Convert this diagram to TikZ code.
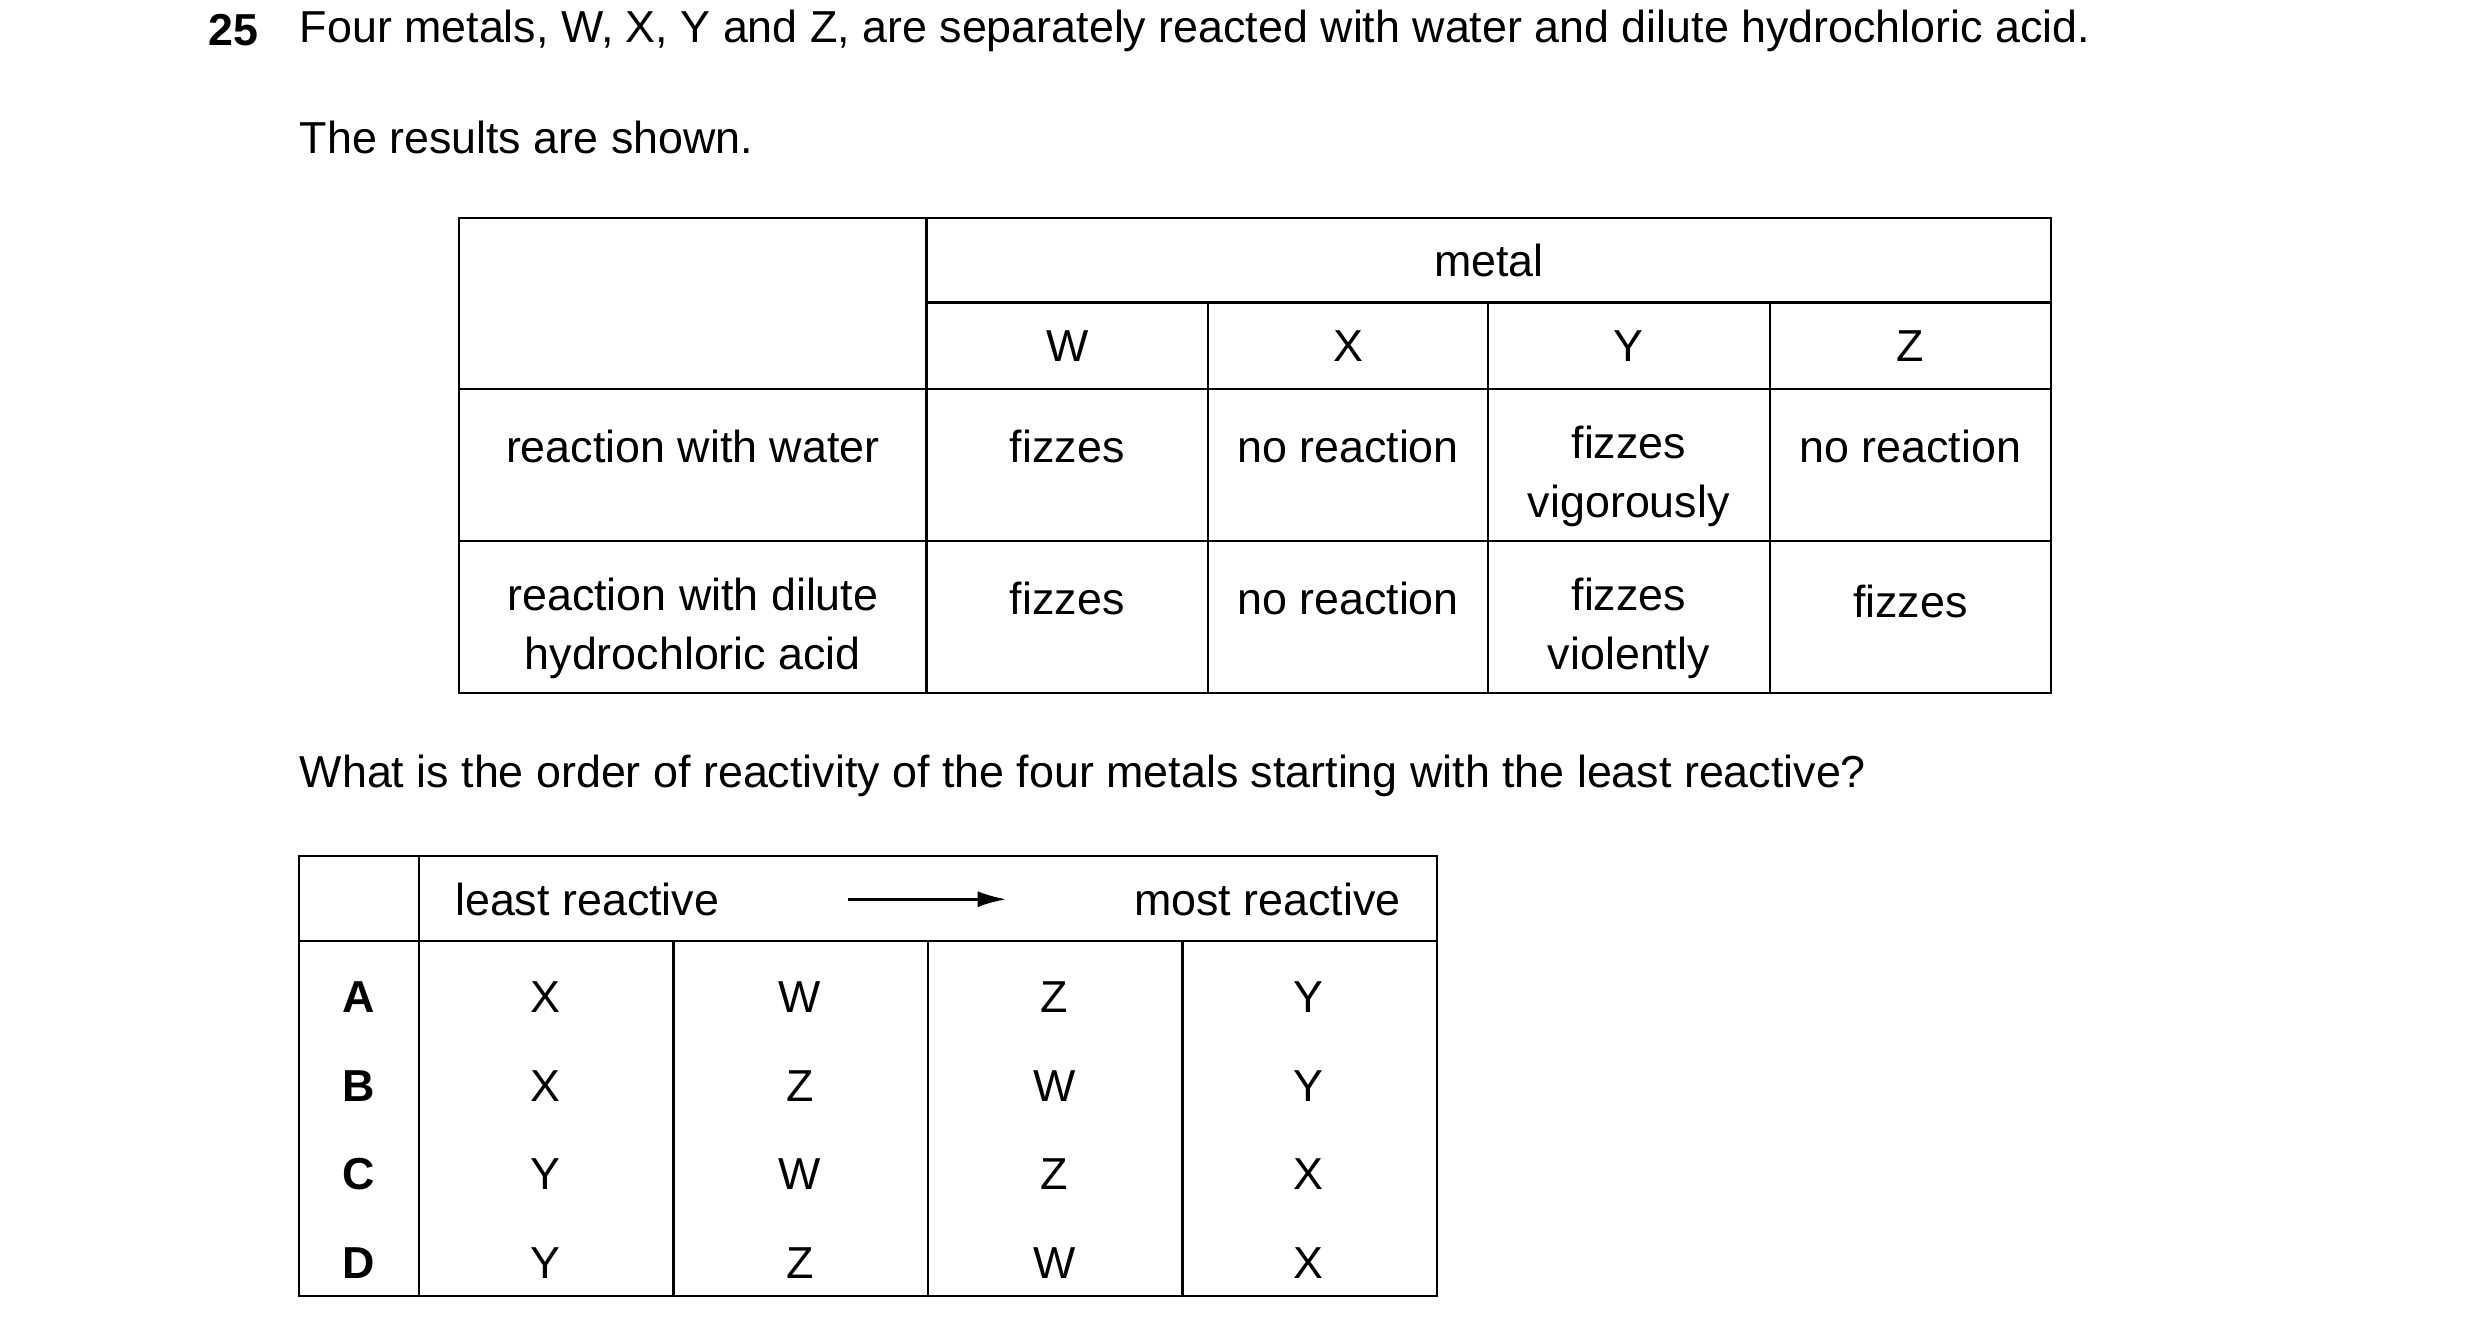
\documentclass[tikz,border=0pt]{standalone}
\usepackage{fontspec}
\setmainfont{Liberation Sans}
\usetikzlibrary{arrows.meta}
\begin{document}
\begin{tikzpicture}[x=0.5pt,y=-0.5pt,
  t/.style={inner sep=0pt,font=\fontsize{14}{18.5}\selectfont,align=center},
  tl/.style={t,anchor=west},
  ln/.style={line width=0.7pt},
  tip/.style={-{Latex[length=9pt,width=5pt]},line width=0.9pt}]
\useasboundingbox (0,0) rectangle (1550,826.9);
\node[tl] (q) at (130,19) {\textbf{25}};
\node[tl] (q1) at (187,19) {Four metals, W, X, Y and Z, are separately reacted with water and dilute hydrochloric acid.};
\node[tl] (q2) at (187,86) {The results are shown.};
% top table
\draw[ln] (287,136) rectangle (1282,433);
\draw[ln] (579,189) -- (1282,189);
\draw[ln] (287,243) -- (1282,243);
\draw[ln] (287,338) -- (1282,338);
\draw[ln] (579,136) -- (579,433);
\foreach \x in {755,930,1106} \draw[ln] (\x,189) -- (\x,433);
\node[t] (metal) at (930.5,163) {metal};
\node[t] (hw) at (667,216) {W};
\node[t] (hx) at (842.5,216) {X};
\node[t] (hy) at (1018,216) {Y};
\node[t] (hz) at (1194,216) {Z};
\node[t] (r1) at (433,279) {reaction with water};
\node[t] (w1) at (667,279) {fizzes};
\node[t] (x1) at (842.5,279) {no reaction};
\node[t,anchor=north] (y1) at (1018,266) {fizzes\\vigorously};
\node[t] (z1) at (1194,279) {no reaction};
\node[t,anchor=north] (r2) at (433,361) {reaction with dilute\\hydrochloric acid};
\node[t] (w2) at (667,374) {fizzes};
\node[t] (x2) at (842.5,374) {no reaction};
\node[t,anchor=north] (y2) at (1018,361) {fizzes\\violently};
\node[t] (z2) at (1194,376) {fizzes};
\node[tl] (q3) at (187,485) {What is the order of reactivity of the four metals starting with the least reactive?};
% bottom table
\draw[ln] (187,535) rectangle (898,810);
\draw[ln] (187,588) -- (898,588);
\draw[ln] (262,535) -- (262,810);
\foreach \x in {421,580,739} \draw[ln] (\x,588) -- (\x,810);
\node[t] (least) at (367,562) {least reactive};
\node[t] (most) at (792,562) {most reactive};
\coordinate (a1) at (530,562); \coordinate (a2) at (629,562);
\draw[tip] (a1) -- (a2);
\foreach \l/\a/\b/\c/\d [count=\i] in {A/X/W/Z/Y,B/X/Z/W/Y,C/Y/W/Z/X,D/Y/Z/W/X}{
  \pgfmathsetmacro\yy{623+55.5*(\i-1)}
  \node[t] (L\i) at (224,\yy) {\textbf{\l}};
  \node[t] (c1\i) at (341,\yy) {\a};
  \node[t] (c2\i) at (500,\yy) {\b};
  \node[t] (c3\i) at (659,\yy) {\c};
  \node[t] (c4\i) at (818,\yy) {\d};
}
\end{tikzpicture}
\end{document}
